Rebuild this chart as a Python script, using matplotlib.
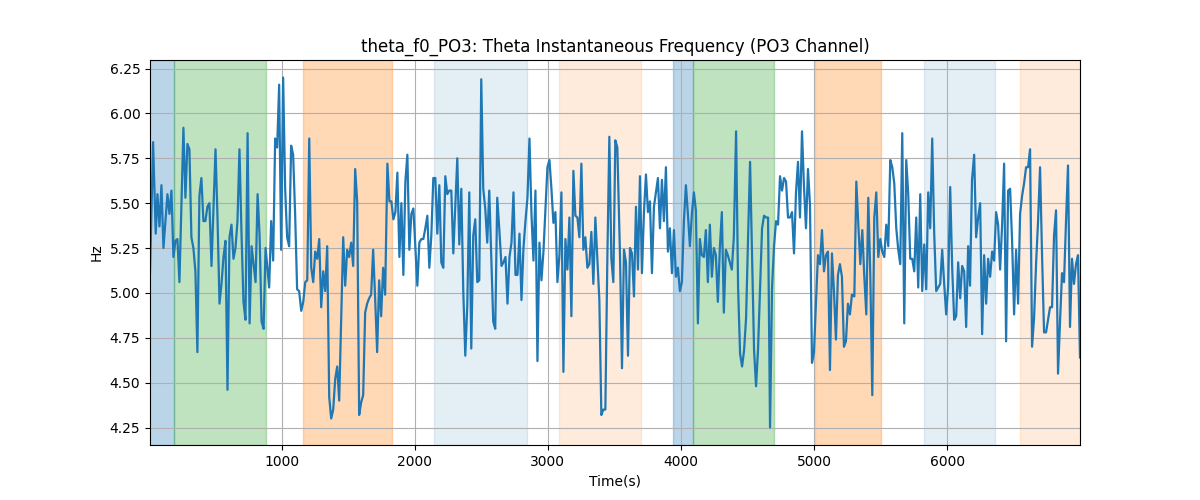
import matplotlib
matplotlib.use('Agg')
from matplotlib import pyplot as plt


# time (s) and instantaneous theta frequency (Hz)
time_s = [
	12, 35, 55, 68, 83, 98, 113, 143, 158, 173, 188, 203, 218, 233, 263, 278, 293, 308, 323, 338,
	353, 368, 383, 398, 413, 428, 443, 458, 474, 504, 519, 534, 549, 564, 579, 594, 609, 624, 639, 654,
	669, 684, 699, 714, 729, 745, 760, 775, 790, 805, 820, 835, 850, 865, 880,
	907, 922, 937, 952, 967, 982, 997, 1012, 1027, 1042, 1057, 1072, 1087, 1102, 1117, 1132, 1148, 1163,
	1178, 1193, 1208, 1223, 1238, 1253, 1268, 1283, 1298, 1313, 1328, 1343, 1358, 1373, 1388, 1403, 1418,
	1433, 1463, 1478, 1493, 1508, 1523, 1538, 1553, 1568, 1583, 1598, 1613, 1628, 1643, 1658, 1673, 1688,
	1703, 1718, 1733, 1748, 1763,
	1778, 1795, 1810, 1825, 1840, 1855, 1870, 1885, 1900, 1915, 1930, 1945, 1960, 1975, 1990, 2020, 2035,
	2050, 2065, 2080, 2095, 2110, 2125, 2140, 2155, 2170, 2185, 2200, 2215, 2230, 2245, 2260, 2275, 2290,
	2305, 2320, 2335, 2350, 2365, 2380, 2395, 2410, 2425, 2440, 2455, 2470, 2485, 2500, 2515, 2530, 2545,
	2560, 2575, 2590, 2605, 2620, 2635,
	2652, 2667, 2682, 2697, 2712, 2727, 2742, 2757, 2772, 2787, 2802, 2817, 2832, 2847, 2862, 2877, 2892,
	2907, 2922, 2937, 2952, 2967, 2982, 2997, 3012, 3027, 3042, 3057, 3072, 3087, 3102, 3117, 3132, 3147,
	3162, 3177, 3192, 3207, 3222, 3237, 3252, 3267, 3282, 3297, 3312, 3327, 3342, 3357, 3372, 3387, 3402,
	3417, 3432, 3447, 3462, 3477, 3492, 3507, 3522,
	3542, 3557, 3572, 3587, 3602, 3617, 3632, 3647, 3662, 3677, 3692, 3707, 3722, 3737, 3752, 3767, 3782,
	3797, 3812, 3827, 3842, 3857, 3872, 3887, 3902, 3917, 3932, 3947, 3962, 3977, 3992, 4007, 4022, 4037,
	4052, 4067, 4082, 4097, 4112, 4127, 4142, 4157, 4172, 4187, 4202, 4217, 4232, 4247, 4262, 4277, 4292,
	4307, 4322, 4337, 4352, 4382, 4397,
	4414, 4429, 4444, 4459, 4474, 4489, 4504, 4519, 4534, 4549, 4564, 4579, 4594, 4609, 4624, 4639, 4654,
	4669, 4684, 4699, 4714, 4729, 4744, 4759, 4774, 4789, 4804, 4819, 4834, 4849, 4864, 4879, 4894, 4909,
	4924, 4939, 4954, 4969, 4984, 4999, 5014, 5029, 5044, 5059, 5074, 5089, 5104, 5119, 5134, 5149, 5164,
	5179, 5194, 5209, 5224, 5239, 5254, 5269,
	5284, 5302, 5317, 5332, 5347, 5362, 5377, 5392, 5407, 5422, 5437, 5452, 5467, 5482, 5497, 5512, 5527,
	5542, 5557, 5572, 5587, 5602, 5617, 5632, 5647, 5662, 5677, 5692, 5707, 5722, 5737, 5752, 5767, 5782,
	5797, 5812, 5827, 5842, 5857, 5872, 5887, 5902, 5917, 5932, 5947, 5962, 5977, 5992, 6007, 6022, 6037,
	6052, 6067, 6082, 6097, 6112, 6127, 6142, 6157,
	6171, 6186, 6202, 6217, 6232, 6247, 6262, 6277, 6292, 6307, 6322, 6337, 6352, 6367, 6382, 6397, 6412,
	6427, 6442, 6457, 6472, 6487, 6502, 6517, 6532, 6547, 6562, 6577, 6592, 6607, 6622, 6637, 6652, 6667,
	6682, 6697, 6712, 6727, 6742, 6757, 6772, 6787, 6802, 6817, 6832, 6847, 6862, 6877, 6892, 6907, 6922,
	6937, 6952, 6967, 6982, 6997,
]

freq_hz = [
	5.11, 5.84, 5.33, 5.55, 5.37, 5.60, 5.25, 5.55, 5.44, 5.57, 5.20, 5.29, 5.30, 5.06, 5.92, 5.53, 5.83, 5.80, 5.31, 5.25,
	5.12, 4.67, 5.54, 5.64, 5.40, 5.40, 5.48, 5.50, 5.15, 5.80, 5.42, 4.94, 5.05, 5.20, 5.29, 4.46, 5.31, 5.38, 5.19, 5.25,
	5.40, 5.80, 5.34, 4.95, 4.85, 5.89, 4.83, 5.26, 5.16, 5.06, 5.55, 5.32, 4.84, 4.80, 5.25,
	5.03, 5.40, 5.18, 5.86, 5.81, 6.16, 5.24, 6.20, 5.58, 5.31, 5.26, 5.82, 5.77, 5.44, 5.02, 5.01, 4.90, 4.95,
	5.06, 5.07, 5.86, 5.14, 5.06, 5.23, 5.19, 5.30, 4.92, 5.12, 5.01, 5.26, 4.42, 4.30, 4.35, 4.52, 4.59,
	4.40, 5.31, 5.04, 5.24, 5.20, 5.28, 5.15, 5.69, 5.51, 4.32, 4.39, 4.43, 4.89, 4.94, 4.97, 4.99, 5.24,
	4.97, 4.67, 5.07, 4.87, 5.14,
	4.99, 5.72, 5.51, 5.51, 5.41, 5.45, 5.67, 5.20, 5.50, 5.10, 5.62, 5.77, 5.24, 5.44, 5.47, 5.04, 5.28,
	5.30, 5.30, 5.36, 5.43, 5.14, 5.32, 5.64, 5.64, 5.33, 5.60, 5.17, 5.14, 5.65, 5.55, 5.57, 5.57, 5.22,
	5.49, 5.75, 5.27, 5.58, 5.01, 4.65, 4.93, 5.56, 4.69, 5.32, 5.41, 5.06, 5.07, 6.19, 5.58, 5.47, 5.28,
	5.57, 5.21, 4.84, 4.80, 5.53, 5.36,
	5.15, 5.17, 5.20, 4.94, 5.20, 5.28, 5.56, 5.10, 5.10, 5.33, 4.96, 5.25, 5.40, 5.53, 5.86, 5.44, 5.18,
	5.57, 4.62, 5.28, 5.07, 5.23, 5.47, 5.70, 5.74, 5.58, 5.39, 5.45, 5.06, 5.21, 5.56, 4.56, 5.30, 5.13,
	5.42, 4.87, 5.68, 5.43, 5.42, 5.31, 5.72, 5.24, 5.31, 5.14, 5.16, 5.34, 5.05, 5.42, 5.19, 4.96, 4.32,
	4.35, 4.35, 5.19, 5.87, 5.19, 5.06, 5.85, 5.81,
	5.21, 4.58, 5.24, 5.17, 4.65, 5.25, 5.22, 4.98, 5.48, 5.13, 5.65, 5.11, 5.45, 5.66, 5.45, 5.51, 5.11,
	5.48, 5.56, 5.64, 5.36, 5.63, 5.40, 5.70, 5.23, 5.36, 5.11, 5.35, 5.09, 5.14, 5.01, 5.06, 5.40, 5.60,
	5.44, 5.26, 5.44, 5.56, 5.46, 4.83, 5.30, 5.21, 5.20, 5.35, 5.06, 5.38, 5.09, 5.25, 5.21, 4.95, 5.25,
	5.45, 4.89, 5.24, 5.21, 5.13, 5.31,
	5.90, 5.03, 4.66, 4.59, 4.68, 4.86, 5.31, 5.73, 5.20, 4.68, 4.48, 4.69, 5.03, 5.36, 5.43, 5.42, 5.42,
	4.25, 5.03, 5.26, 5.40, 5.38, 5.65, 5.57, 5.64, 5.62, 5.42, 5.42, 5.45, 5.22, 5.56, 5.73, 5.42, 5.90,
	5.59, 5.36, 5.69, 5.49, 4.61, 4.67, 4.95, 5.21, 5.16, 5.35, 5.12, 5.21, 5.23, 4.57, 5.22, 5.01, 4.74,
	5.10, 5.16, 5.09, 4.70, 4.73, 4.94, 4.88,
	4.99, 4.98, 5.62, 5.38, 5.16, 5.35, 5.09, 4.88, 5.53, 5.10, 4.43, 5.42, 5.56, 5.20, 5.30, 5.23, 5.20,
	5.38, 5.26, 5.74, 5.70, 5.61, 5.36, 5.24, 5.16, 5.89, 4.83, 5.74, 5.55, 5.19, 5.19, 5.12, 5.42, 5.03,
	5.55, 5.01, 5.27, 5.02, 5.56, 5.36, 5.86, 5.33, 5.01, 5.03, 5.05, 5.24, 5.05, 4.88, 5.04, 5.59, 5.14,
	4.85, 4.87, 5.17, 4.97, 5.15, 5.12, 4.81, 5.26,
	5.04, 5.63, 5.77, 5.31, 5.42, 5.50, 4.77, 5.21, 4.94, 5.19, 5.09, 5.23, 5.18, 5.45, 5.38, 5.13, 5.38,
	5.72, 4.73, 5.57, 5.58, 5.29, 4.88, 5.24, 4.94, 5.44, 5.54, 5.61, 5.70, 5.70, 5.80, 4.70, 4.86, 5.16,
	5.40, 5.70, 5.21, 4.78, 4.78, 4.85, 4.92, 4.92, 5.32, 5.46, 4.55, 4.84, 5.11, 5.06, 5.40, 5.71, 4.81,
	5.19, 5.05, 5.16, 5.21, 4.64,
]

# shaded epochs: (start, end, colour, alpha)
span_starts = [8, 193, 1160, 2148, 3083, 3943, 4093, 5010, 5822, 6544]
span_ends = [193, 882, 1833, 2840, 3697, 4093, 4697, 5501, 6359, 7000]
span_colors = ['tab:blue', 'tab:green', 'tab:orange', 'tab:blue', 'tab:orange',
	'tab:blue', 'tab:green', 'tab:orange', 'tab:blue', 'tab:orange']
span_alphas = [0.3, 0.3, 0.3, 0.12, 0.15, 0.3, 0.3, 0.3, 0.12, 0.15]


fig, ax = plt.subplots(figsize=(12, 5), dpi=100)

for s, e, c, a in zip(span_starts, span_ends, span_colors, span_alphas):
	ax.axvspan(s, e, color=c, alpha=a)

ax.plot(time_s, freq_hz, color='tab:blue', linewidth=1.6)
ax.set_xlim(time_s[0], time_s[-1])

ax.set_title('theta_f0_PO3: Theta Instantaneous Frequency (PO3 Channel)')
ax.set_xlabel('Time(s)')
ax.set_ylabel('Hz')
ax.grid(True)

plt.savefig('out.png', format='png')
